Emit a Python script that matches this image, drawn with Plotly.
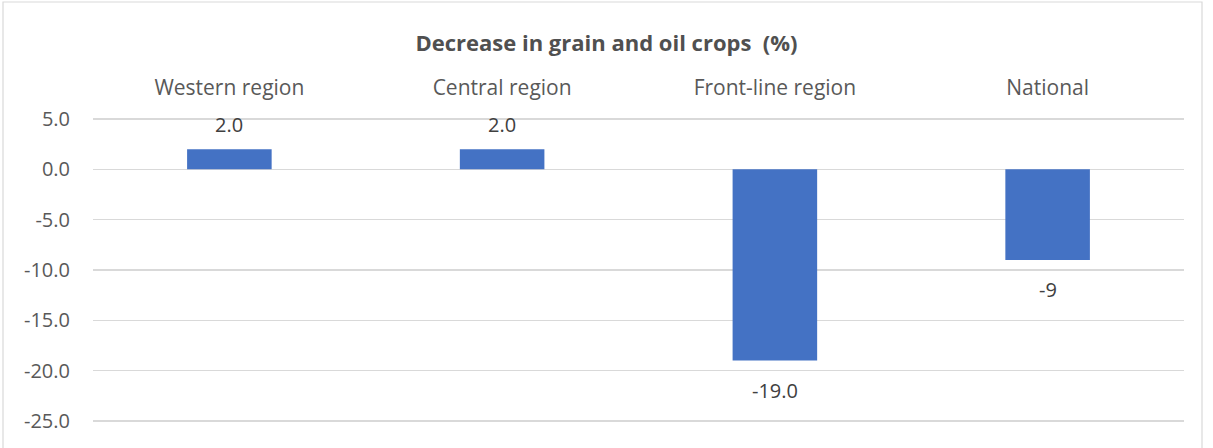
import plotly.graph_objects as go

categories = ["Western region", "Central region", "Front-line region", "National"]
values = [2.0, 2.0, -19.0, -9.0]
labels = ["2.0", "2.0", "-19.0", "-9"]
y_ticks = [5, 0, -5, -10, -15, -20, -25]
y_tick_text = ["5.0", "0.0", "-5.0", "-10.0", "-15.0", "-20.0", "-25.0"]
title_text = "Decrease in grain and oil crops  (%)"

FONT = "Open Sans"
W, H = 1213, 448
ml, mr, mt, mb = 93, 29, 118, 25

fig = go.Figure()
fig.add_trace(go.Bar(
    x=categories, y=values,
    marker=dict(color="#4472C4", line=dict(width=0)),
    width=0.31,
    hoverinfo="skip",
))

for c, v, t in zip(categories, values, labels):
    fig.add_annotation(
        x=c, y=v, text=t, showarrow=False,
        yanchor="middle", yshift=25 if v >= 0 else -30,
        font=dict(family=FONT, size=20, color="#404040"),
    )

pw = W - ml - mr
ph = H - mt - mb
fig.add_shape(
    type="rect", xref="paper", yref="paper",
    x0=(3 - ml) / pw, x1=(1202 - ml) / pw,
    y0=-(H + 5 - mt - ph) / ph, y1=1 + (mt - 2) / ph,
    line=dict(color="#d9d9d9", width=1.2), fillcolor="rgba(0,0,0,0)", layer="below",
)

fig.update_layout(
    width=W, height=H,
    margin=dict(l=ml, r=mr, t=mt, b=mb),
    paper_bgcolor="white", plot_bgcolor="white",
    showlegend=False,
    title=dict(
        text="<b>" + title_text + "</b>",
        x=0.5, xref="container", xanchor="center",
        y=1 - 43 / H, yref="container", yanchor="middle",
        font=dict(family=FONT, size=22, color="#505050"),
    ),
    xaxis=dict(
        side="top", showgrid=False, zeroline=False, showline=False, ticks="",
        tickfont=dict(family=FONT, size=21, color="#595959"),
        ticklabelstandoff=18,
    ),
    yaxis=dict(
        range=[-25.2, 5.1], tickvals=y_ticks, ticktext=y_tick_text,
        showgrid=True, gridcolor="#d9d9d9", gridwidth=1.3,
        zeroline=True, zerolinecolor="#d9d9d9", zerolinewidth=1.3,
        showline=False, ticks="",
        tickfont=dict(family=FONT, size=20, color="#595959"),
        ticklabelstandoff=22,
    ),
)

fig.write_html(
    "out.html",
    config={"displayModeBar": False, "staticPlot": True},
    post_script="document.body.style.margin='0';document.body.style.overflow='hidden';",
)
